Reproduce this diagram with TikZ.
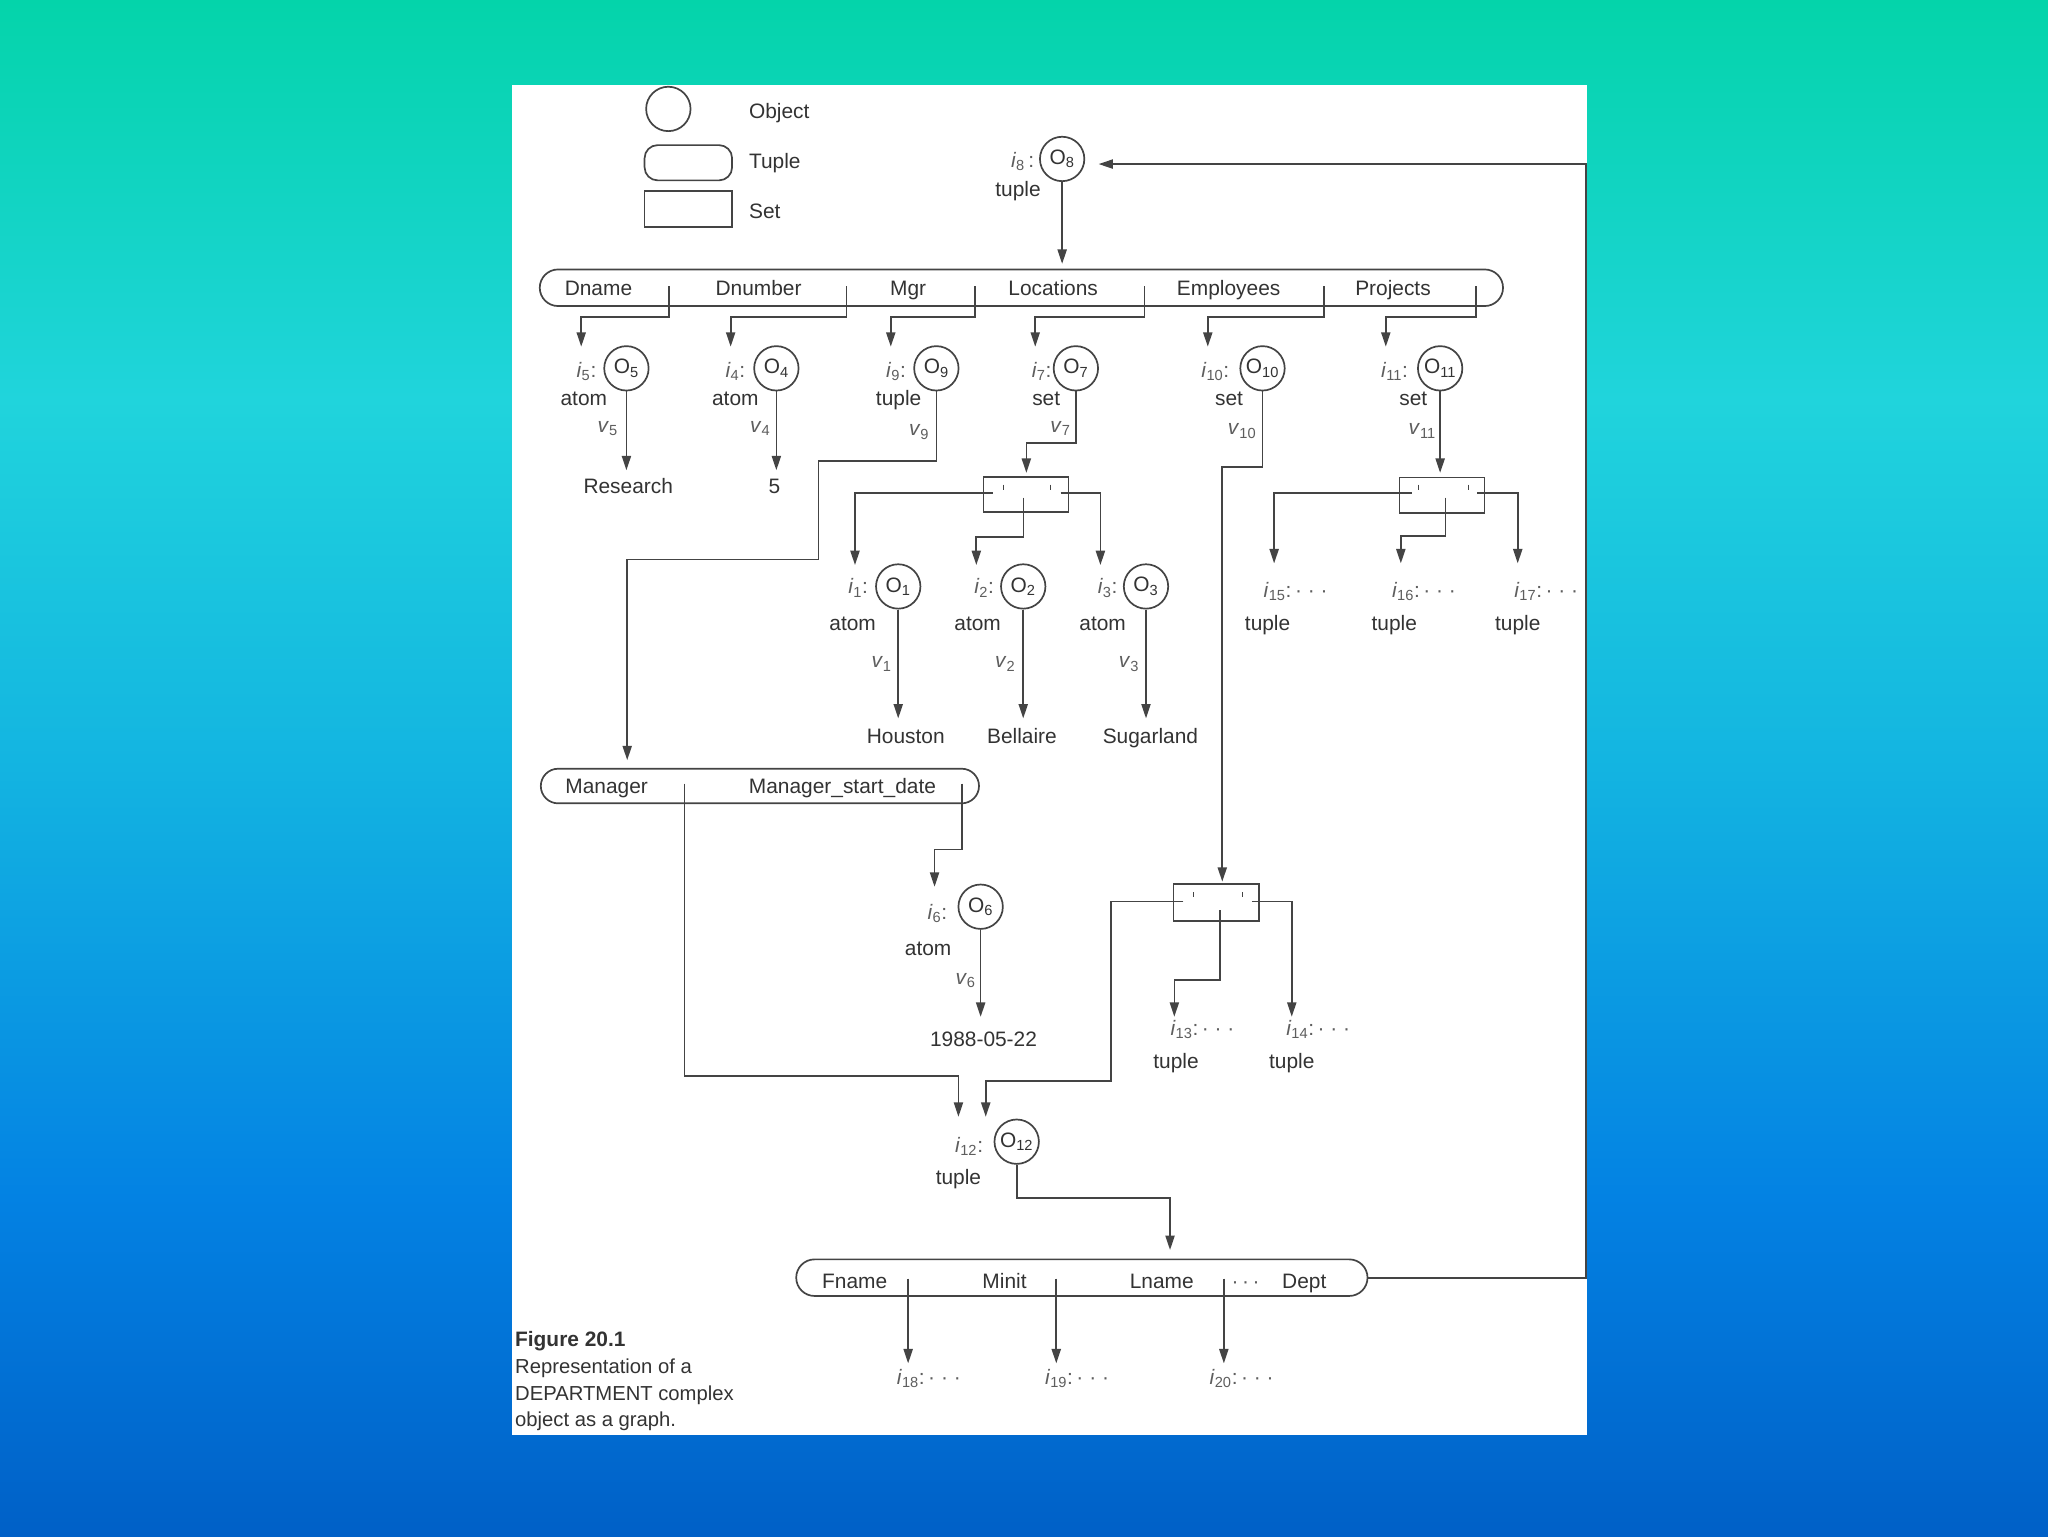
\documentclass[tikz,border=0pt]{standalone}
\usepackage{fontspec}
\setmainfont{Liberation Sans}
\usetikzlibrary{arrows.meta,shapes.misc}
\definecolor{ink}{HTML}{333333}
\definecolor{softc}{HTML}{5E5E5E}
\definecolor{lnc}{HTML}{444444}
\definecolor{bga}{HTML}{04D4AA}
\definecolor{bgb}{HTML}{20D4DC}
\definecolor{bgc}{HTML}{13B4E1}
\definecolor{bgd}{HTML}{0382E3}
\definecolor{bge}{HTML}{0060C7}
\newcommand{\ilab}[1]{\textit{i}\textsubscript{#1}}
\newcommand{\olab}[1]{O\textsubscript{#1}}
\newcommand{\vlab}[1]{\textit{v}\textsubscript{#1}}
\newcommand{\idots}[1]{\ilab{#1}{:}\,·\;·\;·}
\begin{document}
\begin{tikzpicture}[x=1pt,y=-1pt,
 every node/.style={font=\fontsize{16}{19}\selectfont, text=ink},
 txt/.style={inner sep=0pt, text height=11.5pt, text depth=0pt},
 soft/.style={txt, text=softc},
 ln/.style={draw=lnc, line width=1.3pt},
 arr/.style={ln, -{Triangle[length=11pt,width=7pt]}},
 obj/.style={circle, draw=lnc, line width=1.3pt, minimum size=34pt, inner sep=0pt},
 bar/.style={rounded rectangle, draw=lnc, line width=1.3pt, inner sep=0pt},
 setbox/.style={rectangle, draw=lnc, line width=1.3pt, inner sep=0pt, minimum width=65pt, minimum height=27pt},
 tickmark/.style={draw=lnc, line width=0.9pt},
 captxt/.style={inner sep=0pt, anchor=base west, font=\fontsize{15.5}{19}\selectfont, text=ink}
]
\useasboundingbox (0,0) rectangle (1568,1176);
% background
\shade[top color=bga, bottom color=bgb] (0,0) rectangle (1568,306);
\shade[top color=bgb, bottom color=bgc] (0,305.5) rectangle (1568,588);
\shade[top color=bgc, bottom color=bgd] (0,587.5) rectangle (1568,917);
\shade[top color=bgd, bottom color=bge] (0,916.5) rectangle (1568,1176);
\fill[white] (392,65) rectangle (1215,1099);

% legend
\node[obj] (legobj) at (511.7,83.4) {};
\node[txt, anchor=west] (legobjtxt) at (573.3,85) {Object};
\node[draw=lnc, line width=1.3pt, rounded corners=10pt, minimum width=67pt, minimum height=27pt, inner sep=0pt] (legtup) at (527,124.6) {};
\node[txt, anchor=west] (legtuptxt) at (573.3,123.3) {Tuple};
\node[setbox, minimum width=67pt, minimum height=27.6pt] (legset) at (527,160) {};
\node[txt, anchor=west] (legsettxt) at (573.3,161.6) {Set};

% O8
\node[obj] (o8) at (813.2,121.7) {\olab{8}};
\node[soft, anchor=east] (l8) at (792,122.5) {\ilab{8}\,:};
\node[txt] (t8) at (779.4,144.7) {tuple};

% top tuple bar
\node[bar, minimum width=737.5pt, minimum height=28pt] (bar1) at (782,220.3) {};
\node[txt] (fdname) at (458.2,220.6) {Dname};
\node[txt] (fdnumber) at (580.8,220.6) {Dnumber};
\node[txt] (fmgr) at (695.3,220.6) {Mgr};
\node[txt] (floc) at (806.3,220.6) {Locations};
\node[txt] (femp) at (940.7,220.6) {Employees};
\node[txt] (fproj) at (1066.5,220.6) {Projects};

% first object row
\node[obj] (o5) at (479.6,282) {\olab{5}};
\node[obj] (o4) at (594.4,282) {\olab{4}};
\node[obj] (o9) at (716.9,282) {\olab{9}};
\node[obj] (o7) at (823.7,282) {\olab{7}};
\node[obj] (o10) at (966.6,282) {\olab{10}};
\node[obj] (o11) at (1102.6,282) {\olab{11}};
\node[soft] (l5) at (449,283.3) {\ilab{5}:};
\node[soft] (l4) at (563,283.3) {\ilab{4}:};
\node[soft] (l9) at (686,283.3) {\ilab{9}:};
\node[soft] (l7) at (797.5,283.3) {\ilab{7}:};
\node[soft] (l10) at (930.5,283.3) {\ilab{10}:};
\node[soft] (l11) at (1067.7,283.3) {\ilab{11}:};
\node[txt] (k5) at (447,304.5) {atom};
\node[txt] (k4) at (563,304.5) {atom};
\node[txt] (k9) at (688,304.5) {tuple};
\node[txt] (k7) at (801,304.5) {set};
\node[txt] (k10) at (941,304.5) {set};
\node[txt] (k11) at (1082,304.5) {set};
\node[soft] (v5) at (465.3,325.4) {\vlab{5}};
\node[soft] (v4) at (582.1,325.4) {\vlab{4}};
\node[soft] (v9) at (703.7,328) {\vlab{9}};
\node[soft] (v7) at (811.9,325.4) {\vlab{7}};
\node[soft] (v10) at (951,327) {\vlab{10}};
\node[soft] (v11) at (1089,327) {\vlab{11}};
\node[txt] (research) at (481,372) {Research};
\node[txt] (five) at (593,372) {5};

% set boxes
\node[setbox] (set1) at (785.5,378.5) {};
\node[setbox] (set2) at (1104,379) {};
\node[setbox, minimum width=65.5pt, minimum height=28pt] (set3) at (931.2,691) {};
\draw[tickmark] (768,371) -- (768,375);
\draw[tickmark] (804,371) -- (804,375);
\draw[tickmark] (1086,371) -- (1086,375);
\draw[tickmark] (1124,371) -- (1124,375);
\draw[tickmark] (913.7,683) -- (913.7,687);
\draw[tickmark] (951.2,683) -- (951.2,687);

% second object row
\node[obj] (o1) at (687.7,449) {\olab{1}};
\node[obj] (o2) at (783.4,449) {\olab{2}};
\node[obj] (o3) at (877.4,449) {\olab{3}};
\node[soft] (l1) at (657,449) {\ilab{1}:};
\node[soft] (l2) at (753.5,449) {\ilab{2}:};
\node[soft] (l3) at (848,449) {\ilab{3}:};
\node[txt] (k1) at (652.8,477) {atom};
\node[txt] (k2) at (748.5,477) {atom};
\node[txt] (k3) at (844.2,477) {atom};
\node[soft] (v1) at (675,505.4) {\vlab{1}};
\node[soft] (v2) at (769.7,505.4) {\vlab{2}};
\node[soft] (v3) at (864.4,505.4) {\vlab{3}};
\node[txt] (houston) at (693.5,563.3) {Houston};
\node[txt] (bellaire) at (782.4,563.3) {Bellaire};
\node[txt] (sugarland) at (880.8,563.3) {Sugarland};

\node[soft, anchor=west] (l15) at (967.3,451.7) {\idots{15}};
\node[soft, anchor=west] (l16) at (1065.6,451.7) {\idots{16}};
\node[soft, anchor=west] (l17) at (1159.2,451.7) {\idots{17}};
\node[txt] (k15) at (970.5,477.3) {tuple};
\node[txt] (k16) at (1067.5,477.3) {tuple};
\node[txt] (k17) at (1162,477.3) {tuple};

% manager tuple
\node[bar, minimum width=335.5pt, minimum height=26.5pt] (bar2) at (581.8,601.8) {};
\node[txt] (fman) at (464.5,601.8) {Manager};
\node[txt] (fmsd) at (645,601.8) {Manager\_start\_date};

\node[obj] (o6) at (750.8,694.2) {\olab{6}};
\node[soft] (l6) at (717.7,698) {\ilab{6}:};
\node[txt] (k6) at (710.6,725.6) {atom};
\node[soft] (v6) at (739.3,747.8) {\vlab{6}};
\node[txt] (date) at (753,795.8) {1988-05-22};

\node[soft, anchor=west] (l13) at (896,787) {\idots{13}};
\node[soft, anchor=west] (l14) at (984.6,787) {\idots{14}};
\node[txt] (k13) at (900.4,812.4) {tuple};
\node[txt] (k14) at (989,812.4) {tuple};

\node[obj] (o12) at (778.4,874.1) {\olab{12}};
\node[soft] (l12) at (742,876.7) {\ilab{12}:};
\node[txt] (k12) at (733.8,901) {tuple};

% employee tuple
\node[bar, minimum width=437.4pt, minimum height=28pt] (bar3) at (828.3,978.2) {};
\node[txt] (ffname) at (654.4,980.6) {Fname};
\node[txt] (fminit) at (769.1,980.6) {Minit};
\node[txt] (flname) at (889.5,980.6) {Lname};
\node[soft] (fdots) at (953.7,980.6) {·\,·\,·};
\node[txt] (fdept) at (998.6,980.6) {Dept};
\node[soft, anchor=west] (l18) at (686.5,1054) {\idots{18}};
\node[soft, anchor=west] (l19) at (800,1054) {\idots{19}};
\node[soft, anchor=west] (l20) at (926,1054) {\idots{20}};

% caption
\node[captxt, font=\fontsize{16}{19}\selectfont\bfseries] (cap1) at (394.2,1031) {Figure 20.1};
\node[captxt] (cap2) at (394.2,1051.5) {Representation of a};
\node[captxt] (cap3) at (394.2,1072) {DEPARTMENT complex};
\node[captxt] (cap4) at (394.2,1092.5) {object as a graph.};

% coordinates
\coordinate (tb1) at (813.2,202);
\coordinate (sp1) at (512.3,219);  \coordinate (tp1) at (445,265.4);
\coordinate (sp2) at (648,219);    \coordinate (tp2) at (559.4,265.4);
\coordinate (sp3) at (746.7,219);  \coordinate (tp3) at (682,265.4);
\coordinate (sp4) at (876.2,219);  \coordinate (tp4) at (792.6,265.4);
\coordinate (sp5) at (1013.6,219); \coordinate (tp5) at (924.7,265.4);
\coordinate (sp6) at (1130,219);   \coordinate (tp6) at (1061,265.4);

% connectors
\draw[arr] (o8) -- (tb1);
\draw[arr] (sp1) -- ++(0,23.5) -| (tp1);
\draw[arr] (sp2) -- ++(0,23.5) -| (tp2);
\draw[arr] (sp3) -- ++(0,23.5) -| (tp3);
\draw[arr] (sp4) -- ++(0,23.5) -| (tp4);
\draw[arr] (sp5) -- ++(0,23.5) -| (tp5);
\draw[arr] (sp6) -- ++(0,23.5) -| (tp6);

\draw[arr] (o5) -- (479.6,360);
\draw[arr] (o4) -- (594.4,360);
\draw[arr] (o9) |- (626.7,353) |- (480.2,428.3) -- (480.2,582);
\draw[arr] (o7) |- (785.8,339) -- (785.8,362);
\draw[arr] (o10) |- (935.8,357.3) -- (935.8,675);
\draw[arr] (o11) -- (1102.6,362);

% set 1
\draw[arr] (760,377.7) -| (654.6,432.6);
\draw[arr] (812,377.7) -| (842.5,432.6);
\draw[arr] (783.6,381) |- (747.5,411) -- (747.5,432.6);
% set 2
\draw[arr] (1080.8,377.7) -| (975.5,431.3);
\draw[arr] (1131,377.7) -| (1162,431.3);
\draw[arr] (1106.6,381) |- (1072.5,410.4) -- (1072.5,431.3);

\draw[arr] (o1) -- (687.7,550);
\draw[arr] (o2) -- (783.4,550);
\draw[arr] (o3) -- (877.4,550);

% manager tuple pointers
\draw[arr] (524.1,600) |- (733.8,824) -- (733.8,855);
\draw[arr] (736.6,600) |- (715.5,650.3) -- (715.5,678.9);
\draw[arr] (o6) -- (750.8,778.5);

% set 3
\draw[arr] (906,690.1) -| (850.7,827.7) -| (754.7,855);
\draw[arr] (958.4,690.1) -| (989,778.4);
\draw[arr] (934.1,697) |- (899.1,750.3) -- (899.1,778.4);

% O12 to employee tuple
\draw[arr] (o12) |- (895.8,917) -- (895.8,957);
\draw[arr] (695.3,979) -- (695.3,1043.8);
\draw[arr] (808.7,979) -- (808.7,1043.8);
\draw[arr] (937,979) -- (937,1043.8);

% Dept back to O8
\coordinate (loopc) at (1214,125.6);
\coordinate (tl8) at (841.1,125.6);
\draw[arr] (bar3.east) -| (loopc) -- (tl8);
\end{tikzpicture}
\end{document}
